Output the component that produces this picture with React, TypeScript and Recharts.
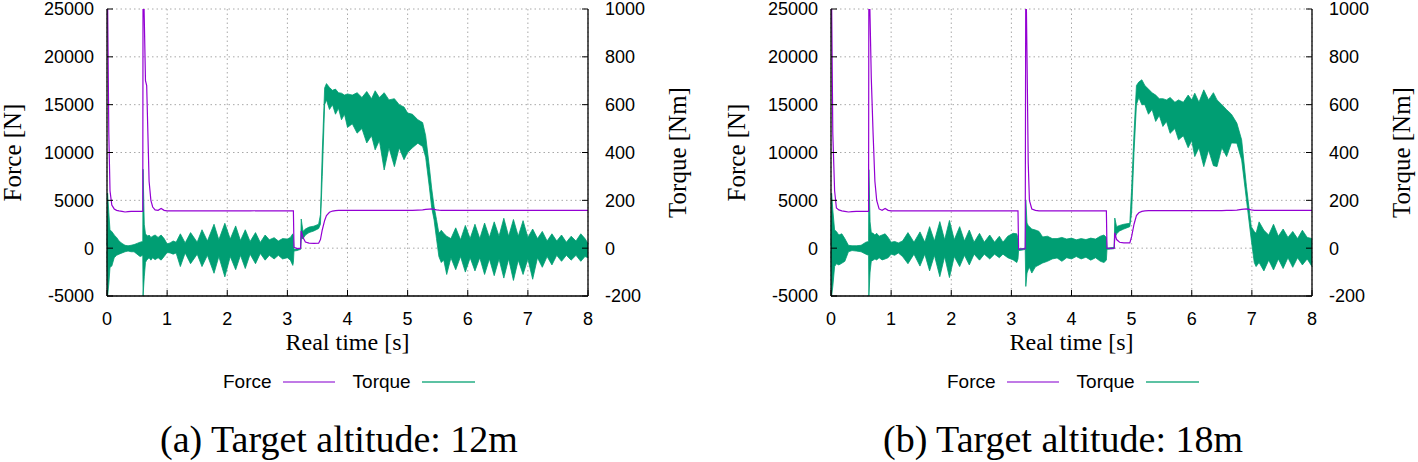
import React from "react";
import {
  ComposedChart,
  Line,
  Area,
  XAxis,
  YAxis,
  CartesianGrid,
  Legend,
  Label,
} from "recharts";

// axis ticks
const timeTicks = [0, 1, 2, 3, 4, 5, 6, 7, 8];
const forceTicks = [-5000, 0, 5000, 10000, 15000, 20000, 25000];
const torqueTicks = [-200, 0, 200, 400, 600, 800, 1000];

// (a) target altitude 12m — time [s], force [N], torque band low/high [Nm]
const timeA = [
  0, 0.01, 0.03, 0.05, 0.08, 0.12, 0.16, 0.2, 0.25, 0.3,
  0.35, 0.4, 0.45, 0.5, 0.55, 0.595, 0.6, 0.62, 0.64, 0.66,
  0.68, 0.7, 0.73, 0.76, 0.8, 0.85, 0.9, 0.95, 1.0, 1.05,
  1.1, 1.15, 1.22, 1.3, 1.39, 1.5, 1.58, 1.67, 1.78, 1.86,
  1.96, 2.05, 2.14, 2.22, 2.3, 2.38, 2.47, 2.55, 2.63, 2.7,
  2.78, 2.85, 2.92, 3.0, 3.05, 3.09, 3.1, 3.11, 3.16, 3.22,
  3.23, 3.26, 3.3, 3.36, 3.44, 3.52, 3.55, 3.58, 3.62, 3.65,
  3.7, 3.75, 3.8, 3.85, 3.9, 3.95, 4.0, 4.08, 4.16, 4.24,
  4.32, 4.4, 4.46, 4.53, 4.61, 4.69, 4.78, 4.86, 4.94, 5.0,
  5.08, 5.17, 5.25, 5.3, 5.36, 5.4, 5.44, 5.48, 5.52, 5.56,
  5.6, 5.65, 5.72, 5.8, 5.88, 5.96, 6.04, 6.12, 6.2, 6.28,
  6.36, 6.44, 6.52, 6.6, 6.68, 6.76, 6.84, 6.92, 7.0, 7.08,
  7.16, 7.24, 7.32, 7.4, 7.48, 7.56, 7.64, 7.72, 7.8, 7.88,
  7.95, 8.0,
];
const forceA = [
  30000, 26000, 12000, 6000, 4500, 4100, 3950, 3900, 3850, 3780,
  3820, 3850, 3850, 3850, 3850, 3850, 30000, 24000, 17500, 17000,
  12000, 7000, 5000, 4300, 4000, 3950, 4150, 3950, 3900, 3900,
  3910, 3900, 3900, 3900, 3910, 3900, 3900, 3900, 3910, 3900,
  3900, 3900, 3910, 3900, 3900, 3900, 3910, 3900, 3900, 3900,
  3910, 3900, 3900, 3900, 3910, 3900, 3900, 100, -50, 0,
  1800, 1100, 650, 520, 500, 520, 900, 1900, 2900, 3400,
  3750, 3880, 3930, 3950, 3950, 3950, 3950, 3960, 3950, 3950,
  3960, 3950, 3950, 3960, 3950, 3950, 3960, 3950, 3950, 3960,
  3950, 3980, 4000, 4050, 4080, 4100, 4050, 4000, 3970, 3960,
  3950, 3950, 3950, 3960, 3950, 3950, 3960, 3950, 3950, 3960,
  3950, 3950, 3960, 3950, 3950, 3960, 3950, 3950, 3960, 3950,
  3950, 3960, 3950, 3950, 3960, 3950, 3950, 3960, 3950, 3950,
  3960, 3950,
];
const torqueLowA = [
  -10, -200, -150, -80, -75, -40, -30, -25, -20, -15,
  -12, -15, -15, -25, -35, -30, -200, -120, -60, -50,
  -45, -40, -50, -40, -48, -40, -50, -35, -18, -20,
  -25, -20, -77, -20, -65, -25, -77, -30, -105, -35,
  -120, -35, -90, -30, -85, -25, -65, -22, -50, -30,
  -45, -30, -45, -40, -50, -72, -60, -12, -10, -5,
  40, 40, 55, 65, 72, 82, 100, 300, 600, 620,
  580, 600, 560, 585, 537, 560, 505, 520, 481, 500,
  440, 470, 411, 450, 327, 420, 341, 420, 370, 400,
  420, 439, 425, 380, 258, 170, 118, 40, -35, -60,
  -49, -110, -40, -90, -35, -100, -40, -95, -40, -110,
  -45, -115, -45, -125, -45, -135, -50, -110, -45, -130,
  -40, -80, -35, -70, -30, -55, -30, -50, -30, -55,
  -35, -40,
];
const torqueHighA = [
  10, 230, 150, 75, 70, 55, 45, 30, 20, 12,
  10, 12, 15, 20, 25, 28, 330, 100, 60, 55,
  50, 55, 45, 50, 55, 45, 55, 40, 18, 22,
  30, 25, 60, 22, 65, 25, 77, 30, 100, 35,
  104, 38, 93, 32, 77, 28, 65, 24, 55, 35,
  44, 30, 40, 38, 45, 60, 50, -5, -4, 0,
  122, 70, 80, 88, 92, 100, 140, 400, 670, 688,
  672, 660, 665, 650, 648, 640, 645, 640, 650, 630,
  655, 625, 658, 630, 650, 620, 625, 600, 590, 565,
  560, 537, 525, 470, 342, 250, 174, 120, 62, 75,
  62, 50, 40, 85, 35, 95, 40, 100, 40, 105,
  45, 110, 50, 125, 50, 120, 50, 115, 45, 80,
  40, 70, 30, 60, 30, 55, 25, 50, 30, 60,
  40, 20,
];

// (b) target altitude 18m
const timeB = [
  0, 0.01, 0.03, 0.06, 0.09, 0.13, 0.18, 0.23, 0.29, 0.35,
  0.42, 0.5, 0.58, 0.625, 0.63, 0.65, 0.67, 0.7, 0.73, 0.76,
  0.8, 0.85, 0.9, 0.95, 1.0, 1.06, 1.12, 1.19, 1.28, 1.38,
  1.48, 1.56, 1.64, 1.72, 1.81, 1.89, 1.97, 2.05, 2.14, 2.22,
  2.3, 2.38, 2.47, 2.55, 2.64, 2.72, 2.8, 2.86, 2.94, 3.03,
  3.09, 3.11, 3.12, 3.18, 3.23, 3.24, 3.26, 3.28, 3.3, 3.34,
  3.4, 3.46, 3.52, 3.6, 3.68, 3.76, 3.84, 3.92, 4.0, 4.08,
  4.16, 4.24, 4.32, 4.4, 4.48, 4.54, 4.58, 4.59, 4.65, 4.71,
  4.72, 4.75, 4.8, 4.87, 4.97, 5.0, 5.04, 5.08, 5.12, 5.17,
  5.22, 5.28, 5.34, 5.4, 5.46, 5.52, 5.58, 5.64, 5.72, 5.78,
  5.86, 5.94, 6.0, 6.05, 6.12, 6.2, 6.28, 6.36, 6.42, 6.5,
  6.58, 6.66, 6.75, 6.83, 6.91, 6.99, 7.04, 7.07, 7.12, 7.2,
  7.28, 7.36, 7.44, 7.52, 7.6, 7.68, 7.76, 7.84, 7.92, 8.0,
];
const forceB = [
  30000, 26000, 12000, 6000, 4200, 4000, 3900, 3850, 3780, 3820,
  3850, 3850, 3850, 3850, 30000, 24000, 17800, 12000, 7000, 5000,
  4100, 3950, 4150, 3950, 3900, 3900, 3910, 3900, 3900, 3910,
  3900, 3900, 3910, 3900, 3900, 3910, 3900, 3900, 3910, 3900,
  3900, 3910, 3900, 3900, 3910, 3900, 3900, 3910, 3900, 3900,
  3900, 3900, -100, -80, -50, 30000, 20000, 9000, 5000, 4100,
  3950, 3900, 3900, 3900, 3910, 3900, 3900, 3910, 3900, 3900,
  3910, 3900, 3900, 3910, 3900, 3900, 3900, 0, -30, 0,
  1600, 900, 620, 550, 550, 1200, 2500, 3400, 3700, 3850,
  3900, 3920, 3920, 3930, 3920, 3930, 3920, 3930, 3920, 3930,
  3920, 3930, 3920, 3930, 3920, 3930, 3920, 3930, 3920, 3930,
  3940, 3950, 3980, 4050, 4100, 4000, 3950, 3950, 3950, 3950,
  3950, 3950, 3950, 3950, 3950, 3950, 3950, 3950, 3950, 3950,
];
const torqueLowB = [
  -10, -200, -160, -77, -65, -70, -63, -55, -15, -10,
  -12, -15, -25, -30, -200, -100, -55, -50, -45, -49,
  -40, -49, -45, -40, -25, -30, -20, -35, -65, -25,
  -75, -25, -95, -30, -119, -35, -123, -35, -77, -30,
  -70, -25, -50, -25, -45, -25, -40, -25, -40, -49,
  -60, -45, -10, -8, -5, -160, -104, -90, -80, -104,
  -78, -70, -62, -55, -45, -41, -55, -40, -45, -35,
  -45, -38, -50, -40, -55, -60, -50, -5, -4, -2,
  40, 60, 72, 80, 90, 150, 400, 600, 630, 600,
  600, 560, 580, 530, 555, 509, 530, 480, 500, 453,
  470, 420, 450, 383, 420, 341, 410, 345, 341, 420,
  383, 440, 439, 369, 202, 35, -60, -77, -60, -95,
  -50, -91, -45, -85, -40, -80, -40, -70, -45, -77,
];
const torqueHighB = [
  10, 230, 160, 76, 70, 55, 60, 40, 12, 10,
  10, 12, 25, 28, 328, 110, 65, 62, 55, 62,
  50, 55, 60, 45, 25, 28, 22, 30, 65, 25,
  68, 25, 90, 30, 111, 35, 116, 35, 90, 30,
  76, 25, 62, 25, 55, 25, 50, 25, 50, 62,
  60, 40, -3, -2, 0, 202, 105, 95, 90, 80,
  76, 70, 47, 50, 40, 40, 45, 38, 42, 35,
  40, 36, 42, 38, 50, 55, 45, 0, 2, 3,
  126, 90, 95, 100, 104, 250, 480, 680, 695, 704,
  680, 665, 650, 640, 625, 625, 620, 630, 610, 620,
  610, 640, 620, 648, 610, 662, 620, 650, 620, 600,
  579, 560, 523, 453, 258, 90, 70, 62, 110, 75,
  55, 100, 50, 80, 45, 70, 40, 75, 45, 40,
];

const captions = ["(a) Target altitude: 12m", "(b) Target altitude: 18m"];

const SANS = '"Liberation Sans", Arial, Helvetica, sans-serif';
const SERIF = '"Liberation Serif", "Times New Roman", Times, serif';
const FORCE_COLOR = "#9400d3";
const TORQUE_COLOR = "#009e73";

const CHART_W = 694;
const CHART_H = 400;
const X_TICK_MARGIN = 16;
const LEFT_TICK_MARGIN = 13;
const RIGHT_TICK_MARGIN = 17;
const TICK_LEN = 6;

function buildRows(time: number[], force: number[], lo: number[], hi: number[]) {
  return time.map((t, i) => ({ t, force: force[i], torque: [lo[i], hi[i]] }));
}

const BottomTick = ({ x, y, payload }: any) => (
  <g>
    <line
      x1={x}
      x2={x}
      y1={y - X_TICK_MARGIN}
      y2={y - X_TICK_MARGIN - TICK_LEN}
      stroke="#000"
    />
    <text x={x} y={y} dy="0.72em" textAnchor="middle" fontFamily={SANS} fontSize={18} fill="#000">
      {payload.value}
    </text>
  </g>
);

const TopTick = ({ x, y }: any) => (
  <line x1={x} x2={x} y1={y} y2={y + TICK_LEN} stroke="#000" />
);

const LeftTick = ({ x, y, payload }: any) => (
  <g>
    <line
      x1={x + LEFT_TICK_MARGIN}
      x2={x + LEFT_TICK_MARGIN + TICK_LEN}
      y1={y}
      y2={y}
      stroke="#000"
    />
    <text x={x} y={y} dy="0.36em" textAnchor="end" fontFamily={SANS} fontSize={18} fill="#000">
      {payload.value}
    </text>
  </g>
);

const RightTick = ({ x, y, payload }: any) => (
  <g>
    <line
      x1={x - RIGHT_TICK_MARGIN}
      x2={x - RIGHT_TICK_MARGIN - TICK_LEN}
      y1={y}
      y2={y}
      stroke="#000"
    />
    <text x={x} y={y} dy="0.36em" textAnchor="start" fontFamily={SANS} fontSize={18} fill="#000">
      {payload.value}
    </text>
  </g>
);

// gnuplot style key: title first, then the line sample
const KeySample = ({ color, width }: { color: string; width: number }) => (
  <span
    style={{
      display: "inline-block",
      width,
      height: 2,
      marginLeft: 11,
      marginTop: 9,
      background: color,
    }}
  />
);

const GnuplotLegend = () => (
  <div
    style={{
      display: "flex",
      alignItems: "flex-start",
      fontFamily: SANS,
      fontSize: 19,
      lineHeight: "20px",
      color: "#000",
      whiteSpace: "nowrap",
    }}
  >
    <span>Force</span>
    <KeySample color="#c07ae6" width={52} />
    <span style={{ marginLeft: 18 }}>Torque</span>
    <KeySample color="#5cc2a3" width={53} />
  </div>
);

interface PanelProps {
  rows: { t: number; force: number; torque: number[] }[];
  left: number;
  caption: string;
}

const Panel: React.FC<PanelProps> = ({ rows, left, caption }) => (
  <div style={{ position: "absolute", left, top: 0, width: CHART_W, height: 462 }}>
    <ComposedChart
      width={CHART_W}
      height={CHART_H}
      data={rows}
      margin={{ top: 9, right: 46, left: 47, bottom: 74 }}
    >
      <CartesianGrid
        xAxisId="bottom"
        yAxisId="force"
        stroke="#a8a8a8"
        strokeDasharray="1.5 3"
      />
      <XAxis
        xAxisId="bottom"
        dataKey="t"
        type="number"
        domain={[0, 8]}
        ticks={timeTicks}
        interval={0}
        height={30}
        tickSize={0}
        tickMargin={X_TICK_MARGIN}
        tickLine={false}
        axisLine={{ stroke: "#000", strokeWidth: 1.3 }}
        tick={<BottomTick />}
      >
        <Label
          content={({ viewBox }: any) => (
            <text
              x={viewBox.x + viewBox.width / 2}
              y={viewBox.y + 54}
              textAnchor="middle"
              fontFamily={SERIF}
              fontSize={24}
              fill="#000"
            >
              Real time [s]
            </text>
          )}
        />
      </XAxis>
      <XAxis
        xAxisId="top"
        orientation="top"
        dataKey="t"
        type="number"
        domain={[0, 8]}
        ticks={timeTicks}
        interval={0}
        height={0}
        tickSize={0}
        tickMargin={0}
        tickLine={false}
        axisLine={{ stroke: "#000", strokeWidth: 1.3 }}
        tick={<TopTick />}
      />
      <YAxis
        yAxisId="force"
        type="number"
        domain={[-5000, 25000]}
        ticks={forceTicks}
        interval={0}
        allowDataOverflow
        width={60}
        tickSize={0}
        tickMargin={LEFT_TICK_MARGIN}
        tickLine={false}
        axisLine={{ stroke: "#000", strokeWidth: 1.3 }}
        tick={<LeftTick />}
      >
        <Label
          content={({ viewBox }: any) => (
            <text
              transform={`translate(${viewBox.x - 35}, ${viewBox.y + viewBox.height / 2}) rotate(-90)`}
              textAnchor="middle"
              dominantBaseline="central"
              fontFamily={SERIF}
              fontSize={25}
              fill="#000"
            >
              Force [N]
            </text>
          )}
        />
      </YAxis>
      <YAxis
        yAxisId="torque"
        orientation="right"
        type="number"
        domain={[-200, 1000]}
        ticks={torqueTicks}
        interval={0}
        allowDataOverflow
        width={60}
        tickSize={0}
        tickMargin={RIGHT_TICK_MARGIN}
        tickLine={false}
        axisLine={{ stroke: "#000", strokeWidth: 1.3 }}
        tick={<RightTick />}
      >
        <Label
          content={({ viewBox }: any) => (
            <text
              transform={`translate(${viewBox.x + 89}, ${viewBox.y + viewBox.height / 2}) rotate(-90)`}
              textAnchor="middle"
              dominantBaseline="central"
              fontFamily={SERIF}
              fontSize={25}
              fill="#000"
            >
              Torque [Nm]
            </text>
          )}
        />
      </YAxis>
      <Legend
        verticalAlign="middle"
        align="center"
        content={<GnuplotLegend />}
        wrapperStyle={{ top: 372, left: 223, width: 300 }}
      />
      <Line
        xAxisId="bottom"
        yAxisId="force"
        type="linear"
        dataKey="force"
        stroke={FORCE_COLOR}
        strokeWidth={1.2}
        dot={false}
        activeDot={false}
        isAnimationActive={false}
      />
      <Area
        xAxisId="bottom"
        yAxisId="torque"
        type="linear"
        dataKey="torque"
        stroke={TORQUE_COLOR}
        strokeWidth={0.8}
        fill={TORQUE_COLOR}
        fillOpacity={1}
        dot={false}
        activeDot={false}
        isAnimationActive={false}
      />
    </ComposedChart>
    <div
      style={{
        position: "absolute",
        left: 339 - 250,
        width: 500,
        top: 420,
        textAlign: "center",
        fontFamily: SERIF,
        fontSize: 38,
        lineHeight: "38px",
        color: "#000",
        whiteSpace: "nowrap",
      }}
    >
      {caption}
    </div>
  </div>
);

export default function App() {
  const rowsA = buildRows(timeA, forceA, torqueLowA, torqueHighA);
  const rowsB = buildRows(timeB, forceB, torqueLowB, torqueHighB);
  return (
    <div
      style={{
        position: "absolute",
        left: 0,
        top: 0,
        width: 1418,
        height: 462,
        background: "#fff",
        overflow: "hidden",
      }}
    >
      <Panel rows={rowsA} left={0} caption={captions[0]} />
      <Panel rows={rowsB} left={724} caption={captions[1]} />
    </div>
  );
}
